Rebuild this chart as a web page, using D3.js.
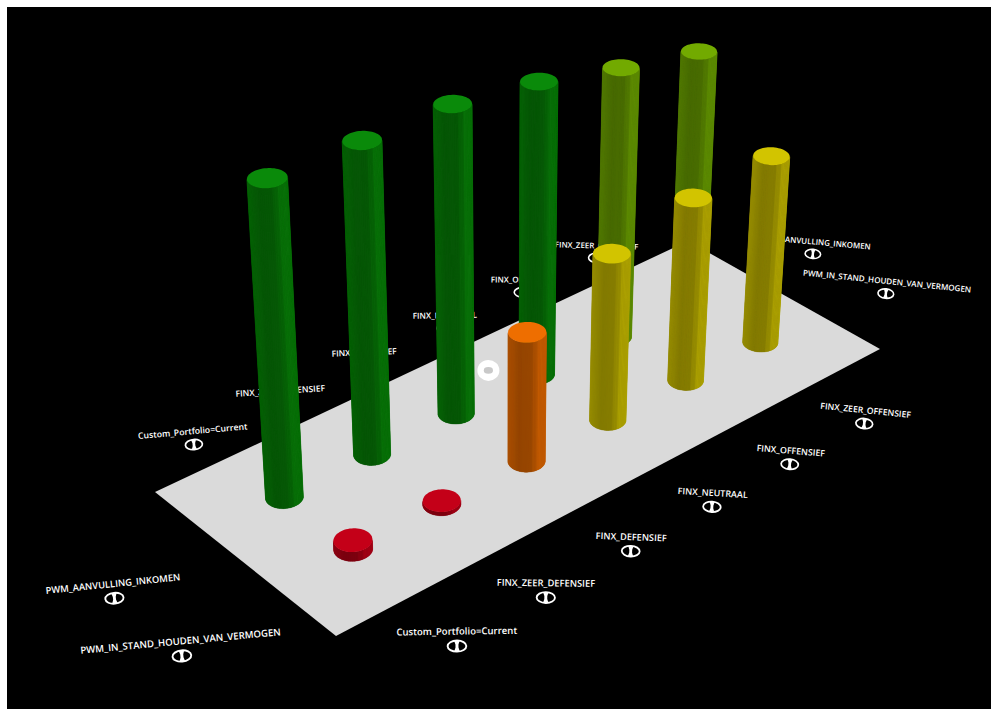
<!DOCTYPE html>
<html>
<head>
<meta charset="utf-8">
<script src="https://cdn.jsdelivr.net/npm/d3@7/dist/d3.min.js"></script>
<style>
html,body{margin:0;padding:0;background:#fff;overflow:hidden}
svg{display:block}
text{font-family:"Open Sans",sans-serif;font-weight:600;fill:#fff}
</style>
</head>
<body>
<svg id="chart" width="991" height="709"></svg>
<script>
// Portfolio categories along the long side of the floor, risk profiles along the short side.
const portfolios = ["Custom_Portfolio=Current","FINX_ZEER_DEFENSIEF","FINX_DEFENSIEF","FINX_NEUTRAAL","FINX_OFFENSIEF","FINX_ZEER_OFFENSIEF"];
const profiles = ["PWM_AANVULLING_INKOMEN","PWM_IN_STAND_HOUDEN_VAN_VERMOGEN"];
const aanvullingValues = [71.9,71.7,71.6,68.8,64.3,60.5];
const instandValues = [2.2,0.9,30.6,39.6,43.8,45.2];
const seriesValues = [aanvullingValues, instandValues];

const W = 991, H = 709;
const svg = d3.select("#chart");
svg.append("rect").attr("x",7).attr("y",7).attr("width",W-7).attr("height",H-7).attr("fill","#000");

// Floor position scales (unit square) and column height scale.
const uScale = d3.scalePoint().domain(portfolios).range([0.126,0.881]);
const vScale = d3.scalePoint().domain(profiles).range([0.31,0.686]);
const zScale = d3.scaleLinear().domain([0,100]).range([0,0.1]);
const colour = d3.scaleThreshold().domain([5,35,55,67]).range(["#c40018","#ee6e00","#d2c400","#72aa00","#0a8a0a"]);
const facetShade = d3.scaleLinear().domain([0,0.3,0.63,0.65,0.76,0.78,1]).range([0.72,0.62,0.64,0.7,0.72,0.81,0.82]);
const labelTilt = d3.scaleLinear().domain([150,860]).range([-5.8,5.8]).clamp(true);
const labelSize = d3.scaleLinear().domain([254,656]).range([7.9,9.6]);
const frontLabelU = d3.scaleLinear().domain([0.126,0.881]).range([0.103,0.844]);

// Projective camera: floor homography from its four screen corners, plus the vertical vanishing point.
const corners = [[155,492],[688,241],[880,349],[336,636]];
const vanish = [505,4600];
const cam = (() => {
  const [[x0,y0],[x1,y1],[x2,y2],[x3,y3]] = corners;
  const dx1=x1-x2, dy1=y1-y2, dx2=x3-x2, dy2=y3-y2, sx=x0-x1+x2-x3, sy=y0-y1+y2-y3;
  const den=dx1*dy2-dx2*dy1;
  const g=(sx*dy2-dx2*sy)/den, h=(dx1*sy-sx*dy1)/den;
  return {a:x1-x0+g*x1,b:x3-x0+h*x3,c:x0,d:y1-y0+g*y1,e:y3-y0+h*y3,f:y0,g,h};
})();
function project(u,v,z=0){
  const w = cam.g*u+cam.h*v+1-z;
  return [(cam.a*u+cam.b*v+cam.c-vanish[0]*z)/w,(cam.d*u+cam.e*v+cam.f-vanish[1]*z)/w];
}
const pathOf = d3.line();

// Labels and eye toggles lie below the floor in the drawing order; they shrink with distance.
const labels = svg.append("g");
function addLabel(name,u,v){
  const [x,y] = project(u,v);
  const size = labelSize(y), k = size/9.6;
  const g = labels.append("g").attr("transform",`translate(${x},${y}) rotate(${labelTilt(x)})`);
  g.append("text").attr("y",-11.5*k).attr("text-anchor","middle").attr("font-size",size).text(name);
  const eye = g.append("g").attr("transform",`scale(${k})`);
  eye.append("ellipse").attr("rx",9.4).attr("ry",5.6).attr("fill","none").attr("stroke","#fff").attr("stroke-width",1.9);
  eye.append("path").attr("d","M-2.8,-5.5 L2.8,-5.5 L1.5,-1.5 L1.5,1.5 L2.8,5.5 L-2.8,5.5 L-1.5,1.5 L-1.5,-1.5 Z").attr("fill","#fff");
}
portfolios.forEach(p => {
  addLabel(p,uScale(p)-0.022,-0.14);
  addLabel(p,frontLabelU(uScale(p)),1.285);
});
profiles.forEach(r => {
  addLabel(r,-0.17,vScale(r)+0.078);
  addLabel(r,1.118,vScale(r)+0.072);
});

// Floor plate
svg.append("path").attr("d",pathOf([[0,0],[1,0],[1,1],[0,1]].map(c=>project(c[0],c[1]))) + "Z").attr("fill","#dadada");

// Rotation pivot marker on the floor
const pivot = project(0.533,0.177);
svg.append("ellipse").attr("cx",pivot[0]).attr("cy",pivot[1]).attr("rx",11).attr("ry",10.5).attr("fill","#fff");
svg.append("ellipse").attr("cx",pivot[0]).attr("cy",pivot[1]).attr("rx",4.6).attr("ry",3.3).attr("fill","#c9c9c9");

// Cylinders, back row first so the front row paints over it.
const radiusU = 0.0257, radiusV = 0.063, segments = 64;
const ring = d3.range(segments).map(i => (i/segments)*2*Math.PI);
const bars = svg.append("g");
profiles.forEach((r,ri) => {
  portfolios.forEach((p,pi) => {
    const value = seriesValues[ri][pi];
    const u0 = uScale(p), v0 = vScale(r), z = zScale(value);
    const fill = d3.rgb(colour(value));
    const shaded = s => d3.rgb(fill.r*s,fill.g*s,fill.b*s).formatHex();
    const base = ring.map(t => project(u0+radiusU*Math.cos(t),v0+radiusV*Math.sin(t)));
    const top = ring.map(t => project(u0+radiusU*Math.cos(t),v0+radiusV*Math.sin(t),z));
    const [xMin,xMax] = d3.extent(base,d=>d[0]);
    const iLeft = d3.minIndex(base,d=>d[0]), iRight = d3.maxIndex(base,d=>d[0]);

    // Near half of the wall, walked from the left silhouette to the right one.
    const nearAtBottom = base[(iLeft+8)%segments][1] > base[iLeft][1];
    const step = nearAtBottom ? 1 : -1;
    const walk = [];
    for (let i=iLeft; i!==iRight; i=(i+step+segments)%segments) walk.push(i);
    walk.push(iRight);

    const g = bars.append("g");
    // Continuous underlay so facet seams never let the floor show through.
    const wall = walk.map(i=>base[i]).concat(walk.slice().reverse().map(i=>top[i]));
    g.append("path").attr("d",pathOf(wall)+"Z").attr("fill",shaded(0.65));
    d3.pairs(walk).forEach(([i,j]) => {
      const tx = ((base[i][0]+base[j][0])/2-xMin)/(xMax-xMin);
      const c = shaded(facetShade(tx));
      g.append("path").attr("d",pathOf([base[i],base[j],top[j],top[i]])+"Z").attr("fill",c).attr("stroke",c).attr("stroke-width",0.35);
    });
    g.append("path").attr("d",pathOf(top)+"Z").attr("fill",fill.formatHex());
  });
});
</script>
</body>
</html>
